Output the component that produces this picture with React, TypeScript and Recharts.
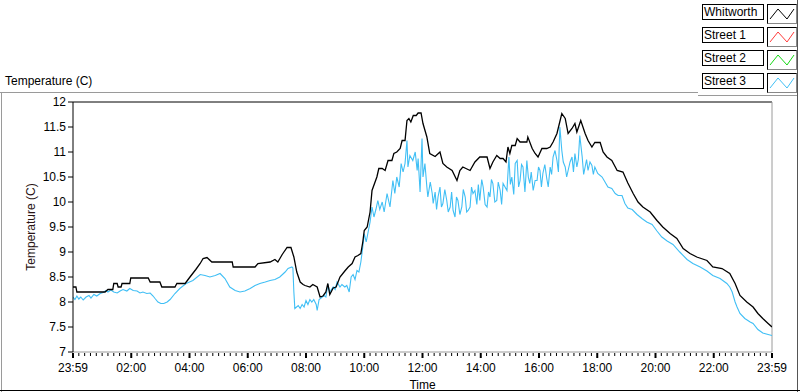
import React from 'react';
import { LineChart, Line, XAxis, YAxis, Legend, ReferenceLine, Label } from 'recharts';

// minutes since start of day (23:59 -> 0, 23:59 next day -> 1440)
const whitworthMin = [
  0, 6, 8, 66, 72, 82, 84, 91, 93, 99, 101, 117, 119, 155, 159, 179, 183, 210, 214, 231,
  241, 253, 262, 268, 276, 286, 328, 330, 375, 381, 406, 416, 422, 431, 441, 449, 455, 461, 468, 474,
  478, 488, 494, 503, 509, 515, 521, 525, 529, 536, 542, 550, 560, 567, 575, 581, 587, 593, 597, 600,
  606, 612, 616, 626, 630, 637, 643, 649, 657, 661, 667, 674, 678, 684, 688, 692, 696, 701, 707, 711,
  717, 721, 729, 735, 746, 756, 762, 770, 781, 791, 797, 803, 818, 828, 838, 853, 859, 865, 873, 880,
  886, 892, 896, 900, 904, 911, 915, 921, 935, 937, 946, 952, 958, 966, 976, 983, 989, 997, 1001, 1007,
  1014, 1020, 1028, 1034, 1038, 1046, 1055, 1061, 1069, 1075, 1086, 1092, 1100, 1110, 1121, 1133, 1143, 1154, 1164, 1174,
  1189, 1203, 1215, 1230, 1244, 1257, 1271, 1285, 1306, 1318, 1337, 1353, 1364, 1374, 1388, 1401, 1411, 1421, 1432, 1440,
];
const whitworthTemp = [
  8.3, 8.3, 8.2, 8.2, 8.25, 8.25, 8.37, 8.37, 8.3, 8.3, 8.37, 8.37, 8.48, 8.48, 8.4, 8.4, 8.3, 8.3, 8.37, 8.37,
  8.5, 8.65, 8.77, 8.87, 8.89, 8.8, 8.8, 8.7, 8.7, 8.77, 8.8, 8.85, 8.8, 8.95, 9.09, 9.09, 8.9, 8.6, 8.4, 8.35,
  8.33, 8.3, 8.35, 8.3, 8.1, 8.12, 8.2, 8.37, 8.15, 8.28, 8.3, 8.5, 8.62, 8.7, 8.77, 8.9, 8.93, 8.97, 9.2, 9.43,
  9.5, 9.8, 10.23, 10.5, 10.67, 10.67, 10.63, 10.83, 10.83, 10.97, 11.0, 11.07, 11.23, 11.23, 11.63, 11.67, 11.6, 11.73, 11.73, 11.78,
  11.78, 11.57, 11.3, 10.97, 10.91, 11.0, 10.77, 10.7, 10.63, 10.43, 10.63, 10.7, 10.63, 10.8, 10.9, 10.9, 10.67, 10.8, 10.93, 10.87,
  10.87, 10.8, 11.1, 10.97, 11.13, 11.13, 11.27, 11.2, 11.2, 11.3, 11.07, 10.97, 10.9, 11.07, 11.07, 11.1, 11.2, 11.37, 11.53, 11.77,
  11.67, 11.37, 11.47, 11.57, 11.4, 11.63, 11.37, 11.23, 11.1, 11.19, 11.19, 11.0, 10.9, 10.83, 10.63, 10.6, 10.38, 10.17, 10.0, 9.9,
  9.8, 9.63, 9.5, 9.37, 9.27, 9.07, 8.97, 8.9, 8.83, 8.7, 8.67, 8.57, 8.37, 8.13, 8.0, 7.9, 7.77, 7.67, 7.57, 7.5,
];

const street3Min = [
  0, 4, 8, 12, 16, 21, 27, 33, 37, 43, 49, 56, 62, 68, 72, 78, 84, 91, 97, 103,
  111, 117, 124, 132, 138, 144, 152, 159, 165, 169, 175, 181, 187, 194, 200, 210, 220, 233, 247, 262,
  272, 282, 293, 303, 313, 323, 334, 344, 354, 365, 375, 385, 396, 406, 416, 426, 437, 443, 451, 453,
  455, 457, 464, 468, 472, 476, 480, 484, 488, 492, 496, 501, 503, 507, 511, 517, 521, 525, 529, 536,
  540, 544, 550, 554, 560, 564, 569, 573, 577, 581, 585, 589, 593, 597, 600, 604, 608, 612, 616, 620,
  624, 628, 632, 637, 641, 647, 653, 659, 663, 667, 672, 676, 680, 684, 688, 690, 694, 700, 705, 709,
  711, 715, 719, 721, 725, 729, 731, 736, 740, 742, 746, 749, 752, 756, 759, 762, 766, 770, 773, 777,
  780, 783, 787, 790, 793, 797, 801, 804, 808, 811, 814, 818, 821, 824, 828, 832, 835, 838, 842, 845,
  849, 853, 856, 859, 862, 865, 869, 873, 876, 880, 883, 886, 890, 894, 898, 901, 904, 908, 911, 915,
  918, 921, 924, 927, 931, 935, 938, 941, 944, 948, 952, 956, 959, 962, 965, 968, 972, 976, 979, 983,
  986, 989, 993, 997, 1000, 1003, 1007, 1010, 1014, 1017, 1020, 1024, 1028, 1031, 1034, 1038, 1041, 1044, 1049, 1052,
  1055, 1058, 1061, 1065, 1069, 1072, 1075, 1081, 1090, 1096, 1102, 1110, 1117, 1123, 1131, 1137, 1143, 1152, 1162, 1172,
  1182, 1193, 1203, 1213, 1224, 1236, 1250, 1265, 1277, 1292, 1306, 1318, 1333, 1347, 1353, 1358, 1364, 1368, 1374, 1384,
  1395, 1401, 1411, 1421, 1432, 1440,
];
const street3Temp = [
  8.1, 8.05, 8.12, 8.06, 8.1, 8.04, 8.1, 8.13, 8.08, 8.15, 8.12, 8.17, 8.19, 8.23, 8.2, 8.24, 8.2, 8.18, 8.22, 8.25,
  8.22, 8.27, 8.23, 8.22, 8.18, 8.2, 8.17, 8.18, 8.12, 8.07, 8.0, 7.97, 7.97, 8.0, 8.05, 8.17, 8.27, 8.37, 8.43, 8.55,
  8.53, 8.5, 8.53, 8.57, 8.47, 8.3, 8.23, 8.2, 8.22, 8.27, 8.33, 8.37, 8.4, 8.43, 8.45, 8.5, 8.6, 8.67, 8.7, 8.68,
  8.2, 7.87, 7.93, 7.87, 7.95, 7.9, 8.03, 7.95, 8.05, 8.0, 8.05, 7.95, 7.83, 8.05, 8.08, 8.13, 8.1, 8.35, 8.2, 8.3,
  8.25, 8.4, 8.3, 8.35, 8.3, 8.33, 8.2, 8.5, 8.55, 8.45, 8.63, 8.6, 8.8, 9.1, 9.37, 9.2, 9.4, 9.6, 9.9, 9.7,
  9.85, 10.03, 9.85, 10.0, 9.8, 10.17, 9.9, 10.43, 10.17, 10.5, 10.3, 10.77, 10.6, 10.77, 11.23, 10.7, 10.93, 10.83, 11.0, 10.63,
  10.87, 10.2, 11.27, 10.5, 10.77, 10.3, 10.1, 10.4, 10.17, 9.97, 10.2, 9.85, 10.1, 10.3, 9.9, 9.97, 10.25, 10.03, 9.8, 9.9,
  10.2, 9.83, 9.7, 10.1, 10.03, 9.75, 9.9, 10.25, 10.1, 9.8, 9.83, 9.9, 10.3, 10.17, 10.23, 9.95, 10.35, 10.03, 10.45, 10.3,
  9.95, 9.9, 10.2, 10.1, 10.45, 10.37, 10.0, 10.03, 10.4, 10.23, 9.95, 10.37, 10.3, 10.23, 10.9, 10.35, 10.5, 10.15, 10.77, 10.83,
  10.3, 10.43, 10.75, 10.7, 10.2, 10.83, 10.5, 10.37, 10.6, 10.23, 10.43, 10.43, 10.7, 10.63, 10.3, 10.57, 10.75, 10.47, 10.3, 10.7,
  10.55, 10.9, 11.03, 10.83, 10.6, 11.5, 11.03, 10.8, 10.7, 10.5, 10.63, 10.8, 10.9, 10.6, 10.97, 10.7, 10.85, 11.33, 10.9, 10.55,
  10.7, 10.85, 10.63, 10.8, 10.73, 10.55, 10.7, 10.57, 10.5, 10.4, 10.3, 10.27, 10.17, 10.13, 10.13, 9.97, 9.88, 9.85, 9.75, 9.67,
  9.6, 9.55, 9.42, 9.3, 9.22, 9.15, 9.0, 8.85, 8.77, 8.7, 8.62, 8.53, 8.47, 8.37, 8.3, 8.2, 8.0, 7.9, 7.77, 7.67,
  7.6, 7.57, 7.45, 7.38, 7.35, 7.33,
];

const timeLabels = ['23:59', '02:00', '04:00', '06:00', '08:00', '10:00', '12:00', '14:00', '16:00', '18:00', '20:00', '22:00', '23:59'];
const tempTicks = [7, 7.5, 8, 8.5, 9, 9.5, 10, 10.5, 11, 11.5, 12];
const legendNames = ['Whitworth', 'Street 1', 'Street 2', 'Street 3'];
const legendColors = ['#000000', '#ff3b3b', '#14d814', '#40bff5'];

const whitworthData = whitworthMin.map((m, i) => ({ min: m, temp: whitworthTemp[i] }));
const street3Data = street3Min.map((m, i) => ({ min: m, temp: street3Temp[i] }));

// minor tick every 12 minutes, major (labelled) every 2 hours
const xTicks = Array.from({ length: 121 }, (_, i) => i * 12);

const FONT = '"Liberation Sans", Arial, sans-serif';

function TimeTick(props: any) {
  const { x, y, payload } = props;
  const m = payload.value;
  const major = m % 120 === 0;
  return (
    <g>
      <line x1={x} x2={x} y1={y + 1} y2={y + (major ? 6 : 4)} stroke="#000" strokeWidth={major ? 2 : 1} />
      {major && (
        <text x={x} y={y + 20} textAnchor="middle" fontSize={12} fill="#000">
          {timeLabels[m / 120]}
        </text>
      )}
    </g>
  );
}

function PlotLegend() {
  return (
    <div style={{ position: 'relative', width: 100, height: 92 }}>
      {legendNames.map((name, i) => (
        <div key={name}>
          <div
            style={{
              position: 'absolute', left: 2, top: 4 + i * 23, width: 59, height: 14,
              border: '1px solid #000', background: '#fff', fontSize: 12, lineHeight: '14px',
              paddingLeft: 1, color: '#000', boxSizing: 'content-box',
            }}
          >
            {name}
          </div>
          <svg
            width={28}
            height={18}
            style={{
              position: 'absolute', left: 67, top: 4 + i * 23, background: '#fff',
              borderTop: '1px solid #000', borderLeft: '1px solid #000',
              borderRight: '1px solid #888', borderBottom: '1px solid #888',
            }}
          >
            <polyline points="2,14 10,4 19,14 26,4" fill="none" stroke={legendColors[i]} strokeWidth={1} />
          </svg>
        </div>
      ))}
    </div>
  );
}

export default function App() {
  return (
    <div style={{ position: 'absolute', left: 0, top: 0, width: 800, height: 392, background: '#fff', fontFamily: FONT }}>
      {/* panel frame */}
      <div style={{ position: 'absolute', left: 0, top: 92, width: 698, height: 1, background: '#9a9a9a' }} />
      <div style={{ position: 'absolute', left: 698, top: 95, width: 100, height: 1, background: '#9a9a9a' }} />
      <div style={{ position: 'absolute', left: 1, top: 92, width: 1, height: 300, background: '#9a9a9a' }} />
      <div style={{ position: 'absolute', left: 797, top: 0, width: 1, height: 392, background: '#555' }} />
      <div style={{ position: 'absolute', left: 0, top: 390, width: 800, height: 1, background: '#000' }} />
      <div style={{ position: 'absolute', left: 5, top: 74, fontSize: 12, color: '#000' }}>Temperature (C)</div>

      <LineChart
        width={800}
        height={392}
        margin={{ top: 102, right: 28, bottom: 0, left: 13 }}
        style={{ position: 'absolute', left: 0, top: 0 }}
      >
        <XAxis
          type="number"
          dataKey="min"
          domain={[0, 1440]}
          ticks={xTicks}
          interval={0}
          tick={<TimeTick />}
          tickLine={false}
          tickSize={0}
          tickMargin={0}
          height={40}
          axisLine={{ stroke: '#9a9a9a' }}
          allowDataOverflow
        >
          <Label value="Time" position="insideBottom" offset={3} fill="#000" fontSize={12} />
        </XAxis>
        <YAxis
          type="number"
          domain={[7, 12]}
          ticks={tempTicks}
          width={60}
          tickSize={5}
          tickMargin={2}
          tick={{ fill: '#000', fontSize: 12 }}
          tickLine={{ stroke: '#000' }}
          axisLine={{ stroke: '#000' }}
          allowDataOverflow
        >
          <Label value="Temperature (C)" angle={-90} position="center" dx={-12} fill="#2a1414" fontSize={12} />
        </YAxis>
        <ReferenceLine y={12} stroke="#000" strokeWidth={1} />
        <ReferenceLine x={1440} stroke="#9a9a9a" strokeWidth={1} />
        <Line
          data={street3Data}
          dataKey="temp"
          type="linear"
          stroke="#40bff5"
          strokeWidth={1.1}
          dot={false}
          isAnimationActive={false}
        />
        <Line
          data={whitworthData}
          dataKey="temp"
          type="linear"
          stroke="#000"
          strokeWidth={1.3}
          dot={false}
          isAnimationActive={false}
        />
        <Legend
          layout="vertical"
          align="center"
          verticalAlign="middle"
          wrapperStyle={{ position: 'absolute', top: 0, left: 700, width: 100, height: 92 }}
          content={() => <PlotLegend />}
        />
      </LineChart>
    </div>
  );
}
